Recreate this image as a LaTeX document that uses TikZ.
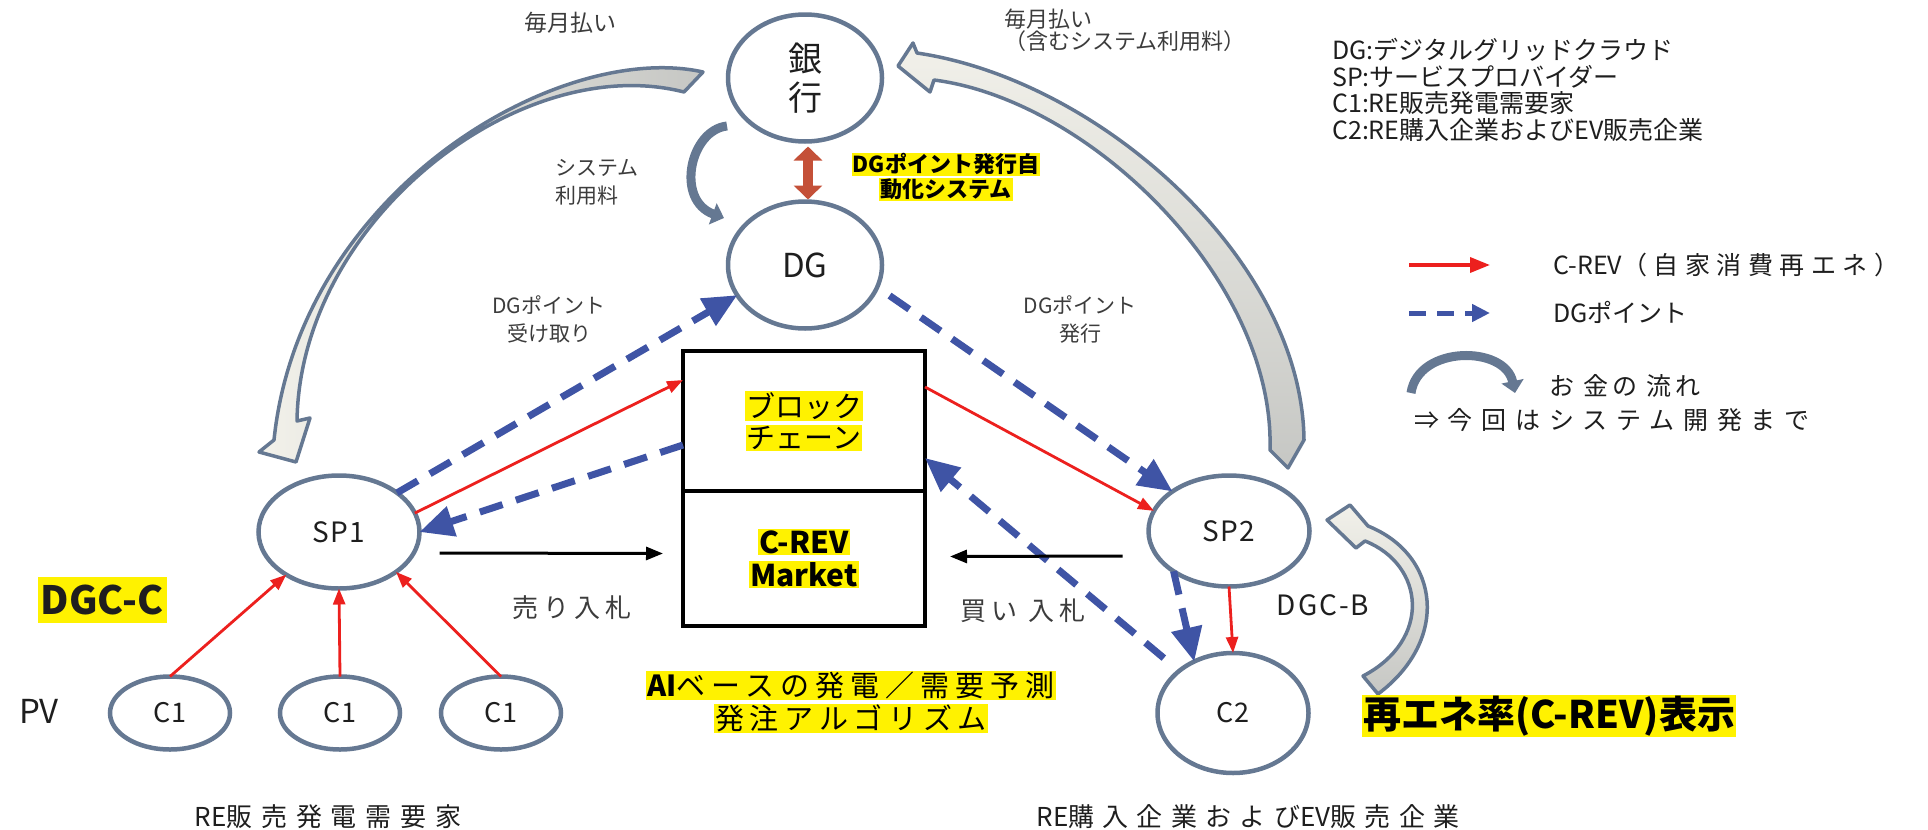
\documentclass[tikz,border=0pt]{standalone}
\usepackage{fontspec}
\setmainfont{Noto Sans CJK JP}
\usetikzlibrary{arrows.meta,shapes.geometric}
\definecolor{steel}{RGB}{101,120,146}
\definecolor{ptblue}{RGB}{63,84,165}
\definecolor{crev}{RGB}{236,32,30}
\definecolor{hly}{RGB}{255,242,0}
\definecolor{brick}{RGB}{196,80,56}
\definecolor{txt}{RGB}{60,60,60}
\definecolor{ink}{RGB}{30,30,30}
\definecolor{bandlo}{RGB}{242,241,234}
\definecolor{bandhi}{RGB}{198,199,196}
\newcommand{\yhl}[1]{{\setlength{\fboxsep}{1pt}\colorbox{hly}{#1}}}
\newcommand{\ls}[1]{\addfontfeatures{LetterSpace=#1}}
\tikzset{
    party/.style={ellipse, draw=steel, line width=4.5pt, fill=white, inner sep=0pt, outer sep=0pt, text=ink, font=\fontsize{28}{30}\selectfont}, % 楕円ノード
    cellbox/.style={draw=black, line width=4pt, minimum width=242pt, inner sep=0pt, outer sep=0pt, align=center, text=black}, % 中央の箱
    revarrow/.style={crev, line width=2.8pt, -{Triangle[length=16pt,width=12pt]}}, % C-REV
    ptarrow/.style={ptblue, line width=7pt, dash pattern=on 24pt off 14pt, -{Triangle[length=34pt,width=30pt]}}, % DGポイント
    bidarrow/.style={black, line width=3pt, -{Triangle[length=17pt,width=13pt]}}, % 入札
    money/.style={draw=steel, line width=3.5pt, line join=round}, % お金の流れ
    moneythin/.style={steel, line width=9pt, -{Triangle[length=12pt,width=22pt]}},
    lbl/.style={text=txt, inner sep=0pt, align=center, font=\fontsize{21}{28}\selectfont}
}
\begin{document}
\begin{tikzpicture}[x=1pt, y=-1pt]
    \useasboundingbox (0,0) rectangle (1928,830);

    % お金の流れ
    \draw[money, left color=bandlo, right color=bandhi] (703,72) .. controls (560,40) and (300,190) .. (274,440) -- (259,452) -- (296,462) -- (310,418) -- (297,421) .. controls (300,220) and (520,50) .. (684,92) -- cycle;
    \draw[money, top color=bandlo, bottom color=bandhi] (898,66) -- (913,43) -- (917,53) .. controls (1100,80) and (1302,260) .. (1304,440) -- (1288,468) -- (1270,450) .. controls (1275,280) and (1090,100) .. (934,80) -- (930,92) -- cycle;
    \draw[money, top color=bandlo, bottom color=bandhi] (1378,694) .. controls (1450,640) and (1440,555) .. (1368,526) -- (1350,505) -- (1327,520) -- (1356,548) -- (1365,541) .. controls (1425,565) and (1432,640) .. (1363,676) -- cycle;
    \draw[moneythin] (727,126) .. controls (690,130) and (675,200) .. (724,218);

    \node[party, minimum width=154pt, minimum height=127pt, align=center, font=\fontsize{34}{39}\selectfont] (bank) at (805,78) {銀\\行};
    \node[party, minimum width=154pt, minimum height=127pt, font=\fontsize{33}{36}\selectfont] (dg) at (805,265) {DG};
    \node[party, minimum width=161pt, minimum height=113pt] (sp1) at (339,532) {\ls{5}SP1};
    \node[party, minimum width=161pt, minimum height=111pt] (sp2) at (1229,531) {\ls{5}SP2};
    \node[party, minimum width=151pt, minimum height=120pt, font=\fontsize{27}{30}\selectfont] (c2) at (1233,713) {C2};
    \foreach \i/\x in {1/170,2/340,3/501}
        \node[party, minimum width=120pt, minimum height=73pt, font=\fontsize{27}{30}\selectfont] (home\i) at (\x,713) {C1};

    \node[cellbox, minimum height=140pt, font=\fontsize{29}{31}\selectfont] (chain) at (804,421) {\yhl{ブロック}\\\yhl{チェーン}};
    \node[cellbox, minimum height=135pt, anchor=north, font=\bfseries\fontsize{30}{33}\selectfont] (mkt) at (chain.south) {\yhl{C-REV}\\\yhl{Market}};

    % 接続
    \draw[brick, line width=10pt, {Triangle[length=14pt,width=28pt]}-{Triangle[length=14pt,width=28pt]}] ([shift={(3pt,-5pt)}]bank.south) -- ([shift={(3pt,2pt)}]dg.north);
    \draw[ptarrow] (sp1.34) -- (dg.204);
    \draw[ptarrow] ([yshift=46pt]chain.south west) -- (sp1.east);
    \draw[ptarrow, shorten <=15pt] (dg.343) -- (sp2.145);
    \draw[ptarrow] (sp2.216) -- (c2.127);
    \draw[ptarrow, shorten <=20pt] (c2.142) -- ([yshift=33pt]chain.south east);
    \foreach \i/\a in {1/219,2/270,3/325}
        \draw[revarrow] (home\i.north) -- (sp1.\a);
    \draw[revarrow] (sp1.14) -- ([yshift=-29pt]chain.north west);
    \draw[revarrow] ([yshift=-36pt]chain.north east) -- (sp2.165);
    \draw[revarrow] (sp2.south) -- (c2.north);
    \draw[bidarrow] ([shift={(20pt,-21pt)}]sp1.east) -- ([shift={(-20pt,5pt)}]mkt.west);
    \draw[bidarrow] ([shift={(-26pt,-25pt)}]sp2.west) -- ([shift={(25pt,2pt)}]mkt.east);

    % ラベル
    \node[lbl, font=\fontsize{23}{26}\selectfont] (payL) at (570,23) {毎月払い};
    \node[lbl, anchor=north west, align=left, font=\fontsize{22}{22}\selectfont] (payR) at (1004,9) {毎月払い\\（含むシステム利用料）};
    \node[lbl, anchor=west, align=left] (fee) at (555,182) {システム\\利用料};
    \node[lbl, text=black, font=\bfseries\fontsize{22}{25}\selectfont] (auto) at (946,177) {\yhl{DGポイント発行自}\\\yhl{動化システム}};
    \node[lbl] (recv) at (549,319) {DGポイント\\受け取り};
    \node[lbl] (issue) at (1080,319) {DGポイント\\発行};
    \node[fill=hly, inner sep=0pt, minimum width=129pt, minimum height=46pt, text=ink, font=\bfseries\fontsize{39}{40}\selectfont] (dgcc) at (102,600) {DGC-C};
    \node[lbl, text=ink, font=\fontsize{33}{36}\selectfont] (pv) at (39,711) {PV};
    \node[lbl, font=\fontsize{26}{28}\selectfont] (sell) at (572,608) {\ls{20}売り入札};
    \node[lbl, font=\fontsize{26}{28}\selectfont] (buy) at (1023,611) {\ls{20}買い 入札};
    \node[lbl, text=ink, font=\fontsize{28}{30}\selectfont] (dgcb) at (1323,605) {\ls{8}DGC-B};
    \node[lbl, text=black, font=\fontsize{29}{33}\selectfont] (algo) at (851,702) {\yhl{\textbf{AI}{\ls{21}ベースの発電／需要予測}}\\\yhl{\ls{20}発注アルゴリズム}};
    \node[lbl, text=black, font=\bfseries\fontsize{38}{40}\selectfont] (ratio) at (1549,716) {\yhl{再エネ率(C-REV)表示}};
    \node[lbl, text=ink, font=\fontsize{26}{28}\selectfont] (sellers) at (328,817) {RE{\ls{34}販売発電需要家}};
    \node[lbl, text=ink, font=\fontsize{26}{28}\selectfont] (buyers) at (1248,817) {RE{\ls{32}購入企業および}EV{\ls{32}販売企業}};

    % 凡例
    \node[lbl, anchor=north west, align=left, text=ink, font=\fontsize{25}{26.5}\selectfont] (terms) at (1332,38) {DG:デジタルグリッドクラウド\\SP:サービスプロバイダー\\C1:RE販売発電需要家\\C2:RE購入企業およびEV販売企業};
    \coordinate (lgred) at (1409,265);
    \coordinate (lgblue) at (1409,313);
    \draw[revarrow, line width=3.5pt, -{Triangle[length=20pt,width=15pt]}] (lgred) -- ++(81,0);
    \draw[ptarrow, line width=5pt, dash pattern=on 17pt off 11pt, -{Triangle[length=18pt,width=17pt]}] (lgblue) -- ++(81,0);
    \node[lbl, anchor=west, text=ink, font=\fontsize{25}{28}\selectfont] (lgrevt) at (1553,265) {C-REV{\ls{26}（自家消費再エネ）}};
    \node[lbl, anchor=west, text=ink, font=\fontsize{25}{28}\selectfont] (lgptt) at (1553,312) {DGポイント};
    \draw[moneythin] (1411,393) .. controls (1418,345) and (1505,345) .. (1515,393);
    \node[lbl, anchor=west, text=ink, font=\fontsize{25}{28}\selectfont] (lgmon) at (1549,386) {\ls{15}お 金の 流れ};
    \node[lbl, anchor=west, text=ink, font=\fontsize{25}{28}\selectfont] (lgnote) at (1414,420) {\ls{35}⇒今回はシステム開発まで};
\end{tikzpicture}
\end{document}
